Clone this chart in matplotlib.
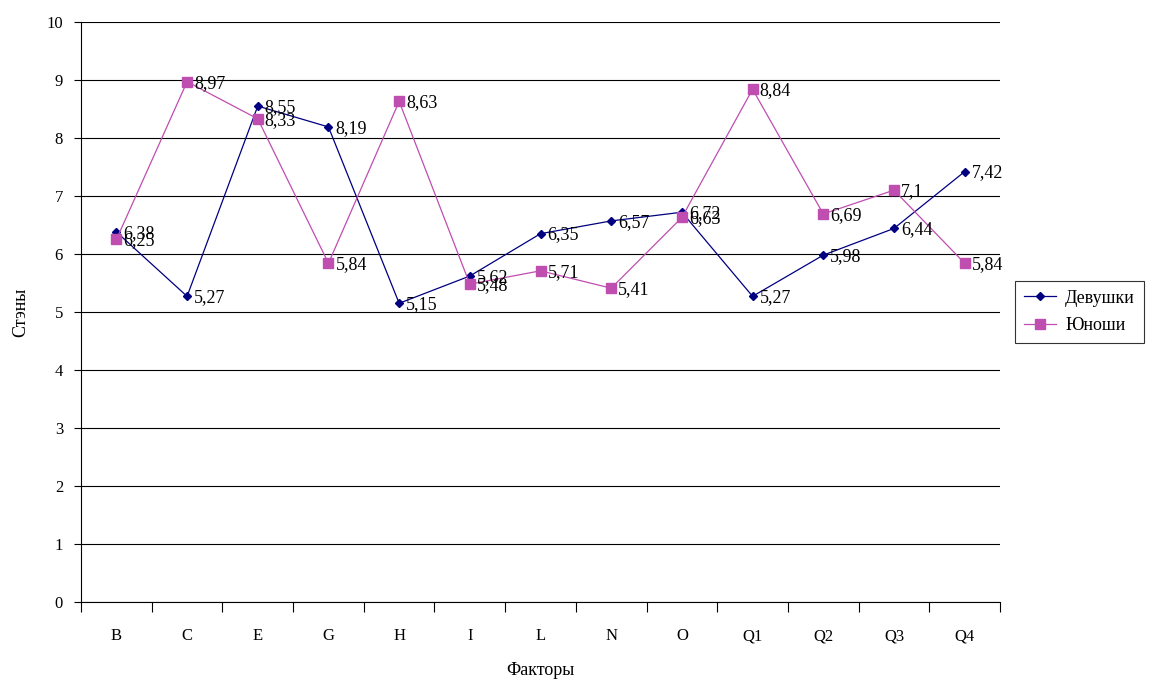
import matplotlib
matplotlib.use("Agg")
import matplotlib.pyplot as plt

factors = ["B", "C", "E", "G", "H", "I", "L", "N", "O", "Q1", "Q2", "Q3", "Q4"]
girls = [6.38, 5.27, 8.55, 8.19, 5.15, 5.62, 6.35, 6.57, 6.72, 5.27, 5.98, 6.44, 7.42]
boys = [6.25, 8.97, 8.33, 5.84, 8.63, 5.48, 5.71, 5.41, 6.63, 8.84, 6.69, 7.1, 5.84]

plt.rcParams['font.family'] = ['Liberation Serif', 'DejaVu Serif']
plt.rcParams['font.size'] = 12

fig = plt.figure(figsize=(11.53, 6.8), dpi=100)
ax = fig.add_axes([0.0703, 0.1147, 0.797, 0.853])

x = range(len(factors))
ax.plot(x, girls, color='#000080', lw=0.9, marker='D', ms=4.5, label='Девушки')
ax.plot(x, boys, color='#C04DB0', lw=0.9, marker='s', ms=7.5, label='Юноши')

def fmt(v):
    return ('%g' % v).replace('.', ',')

for i in x:
    ax.annotate(fmt(girls[i]), (i, girls[i]), xytext=(5, -1), textcoords='offset points',
                ha='left', va='center', fontsize=13)
    ax.annotate(fmt(boys[i]), (i, boys[i]), xytext=(5, -1), textcoords='offset points',
                ha='left', va='center', fontsize=13)

ax.set_xlim(-0.5, len(factors) - 0.5)
ax.set_ylim(0, 10)
ax.set_yticks(range(0, 11))
ax.set_yticklabels([str(v) for v in range(0, 11)])
ax.yaxis.grid(True, color='black', lw=0.8)
ax.set_axisbelow(True)

ax.set_xticks(list(x))
ax.set_xticklabels(factors)
ax.set_xticks([i - 0.5 for i in range(len(factors) + 1)], minor=True)
ax.tick_params(axis='x', which='major', length=0, pad=19, labelsize=12)
ax.tick_params(axis='x', which='minor', length=7, direction='out', width=0.8)
ax.tick_params(axis='y', length=5, direction='out', width=0.8, pad=8, labelsize=12)

for s in ['top', 'right']:
    ax.spines[s].set_visible(False)
for s in ['left', 'bottom']:
    ax.spines[s].set_linewidth(0.8)

ax.set_xlabel('Факторы', fontsize=13, labelpad=13)
ax.set_ylabel('Стэны', fontsize=13, labelpad=12)

leg = ax.legend(loc='center left', bbox_to_anchor=(1.012, 0.5), frameon=True,
                fancybox=False, edgecolor='black', fontsize=13, handlelength=1.8,
                handletextpad=0.5, borderpad=0.5, borderaxespad=0.2, labelspacing=0.6)
leg.get_frame().set_linewidth(0.8)

fig.savefig('out.png', dpi=100)
